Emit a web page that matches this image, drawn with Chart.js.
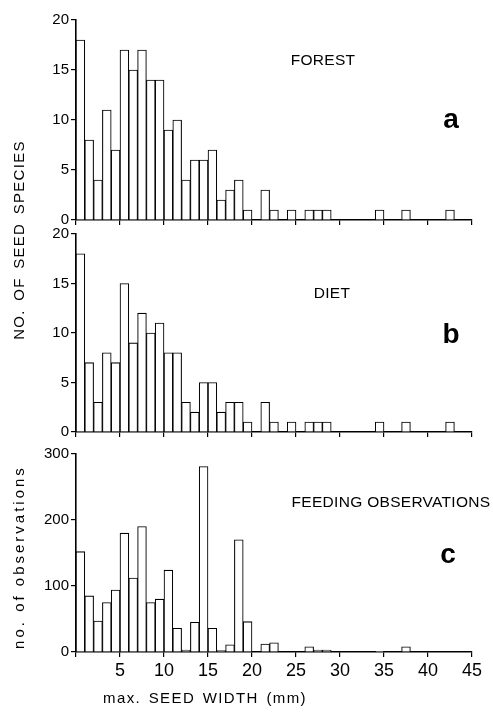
<!DOCTYPE html>
<html>
<head>
<meta charset="utf-8">
<script src="https://cdn.jsdelivr.net/npm/chart.js@4.4.1/dist/chart.umd.min.js"></script>
<style>
  html, body { margin: 0; padding: 0; background: #fff; }
  #wrap { position: relative; width: 493px; height: 713px; overflow: hidden; font-family: "Liberation Sans", Arial, sans-serif; color: #000; }
  canvas.panel { position: absolute; left: 0; }
  .lbl { position: absolute; transform: translate(-50%, -50%); white-space: nowrap; }
  .tag { font-size: 15.5px; letter-spacing: 0.3px; }
  .letter { font-size: 28px; font-weight: bold; }
  .ytitle { position: absolute; transform: translate(-50%, -50%) rotate(-90deg); white-space: nowrap; font-size: 15px; }
</style>
</head>
<body>
<div id="wrap">
  <canvas id="panelA" class="panel" width="493" height="232" style="top:0px"></canvas>
  <canvas id="panelB" class="panel" width="493" height="230" style="top:214px"></canvas>
  <canvas id="panelC" class="panel" width="493" height="256" style="top:434px"></canvas>

  <div class="lbl tag" style="left:323px; top:60px">FOREST</div>
  <div class="lbl letter" style="left:451px; top:119px">a</div>
  <div class="lbl tag" style="left:332px; top:293px">DIET</div>
  <div class="lbl letter" style="left:451px; top:334px">b</div>
  <div class="lbl tag" style="left:391px; top:502px">FEEDING OBSERVATIONS</div>
  <div class="lbl letter" style="left:448px; top:554px">c</div>

  <div class="ytitle" style="left:18px; top:240px; letter-spacing:1.3px; word-spacing:3px">NO. OF SEED SPECIES</div>
  <div class="ytitle" style="left:18px; top:557px; letter-spacing:3px">no. of observations</div>
  <div class="lbl" style="left:205px; top:697px; font-size:15px; letter-spacing:1.4px; word-spacing:2px">max. SEED WIDTH (mm)</div>
</div>

<script>
// lower edge of each 1 mm width class
var binLow = [0, 1, 2, 3, 4, 5, 6, 7, 8, 9, 10, 11, 12, 13, 14, 15, 16, 17, 18, 19, 20, 21,
  22, 23, 24, 25, 26, 27, 28, 29, 30, 31, 32, 33, 34, 35, 36, 37, 38, 39, 40, 41, 42, 43, 44];

// a: seed species in the forest
var forestSpecies = [18, 8, 4, 11, 7, 17, 15, 17, 14, 14, 9, 10, 4, 6, 6, 7, 2, 3, 4, 1, 0, 3,
  1, 0, 1, 0, 1, 1, 1, 0, 0, 0, 0, 0, 1, 0, 0, 1, 0, 0, 0, 0, 1, 0, 0];

// b: seed species in the diet
var dietSpecies = [18, 7, 3, 8, 7, 15, 9, 12, 10, 11, 8, 8, 3, 2, 5, 5, 2, 3, 3, 1, 0, 3,
  1, 0, 1, 0, 1, 1, 1, 0, 0, 0, 0, 0, 1, 0, 0, 1, 0, 0, 0, 0, 1, 0, 0];

// c: feeding observations
var feedingObs = [152, 85, 47, 75, 94, 180, 112, 190, 75, 80, 124, 36, 3, 45, 281, 36, 2, 11, 170, 46, 0, 12,
  14, 0, 0, 0, 8, 3, 3, 0, 0, 0, 0, 0, 1, 0, 0, 8, 0, 0, 0, 0, 0, 0, 0];

var xTicks = [0, 5, 10, 15, 20, 25, 30, 35, 40, 45];
var speciesTicks = [0, 5, 10, 15, 20];
var obsTicks = [0, 100, 200, 300];

var FONT = "'Liberation Sans', Arial, sans-serif";

function toPoints(values) {
  return values.map(function (v, i) { return { x: binLow[i] + 0.5, y: v }; });
}

function makePanel(id, values, yTicks, showXLabels, xAxisHeight) {
  var ctx = document.getElementById(id);
  return new Chart(ctx, {
    type: "bar",
    data: {
      datasets: [{
        data: toPoints(values),
        backgroundColor: "#fff",
        borderColor: "#000",
        borderWidth: 1.1,
        barPercentage: 1,
        categoryPercentage: 1,
      }],
    },
    options: {
      responsive: false,
      animation: false,
      events: [],
      layout: { padding: { top: 20, right: 21, left: 0, bottom: 0 } },
      plugins: { legend: { display: false }, tooltip: { enabled: false } },
      scales: {
        x: {
          type: "linear",
          offset: false,
          min: xTicks[0],
          max: xTicks[xTicks.length - 1],
          afterBuildTicks: function (scale) {
            scale.ticks = xTicks.map(function (v) { return { value: v }; });
          },
          afterFit: function (scale) { scale.height = xAxisHeight; },
          border: { display: true, color: "#000", width: 1.6 },
          grid: { display: true, offset: false, drawOnChartArea: false, drawTicks: true, tickLength: 5, color: "#000", lineWidth: 1.2 },
          ticks: {
            display: showXLabels,
            color: "#000",
            padding: 3,
            maxRotation: 0,
            font: { family: FONT, size: 18 },
            callback: function (v) { return v === 0 ? "" : String(v); },
          },
        },
        y: {
          min: yTicks[0],
          max: yTicks[yTicks.length - 1],
          afterBuildTicks: function (scale) {
            scale.ticks = yTicks.map(function (v) { return { value: v }; });
          },
          afterFit: function (scale) { scale.width = 76; },
          border: { display: true, color: "#000", width: 1.6 },
          grid: { display: true, drawOnChartArea: false, drawTicks: true, tickLength: 5, color: "#000", lineWidth: 1.2 },
          ticks: {
            color: "#000",
            padding: 2,
            font: { family: FONT, size: 15 },
          },
        },
      },
    },
  });
}

makePanel("panelA", forestSpecies, speciesTicks, false, 12);
makePanel("panelB", dietSpecies, speciesTicks, false, 12);
makePanel("panelC", feedingObs, obsTicks, true, 38);
</script>
</body>
</html>
